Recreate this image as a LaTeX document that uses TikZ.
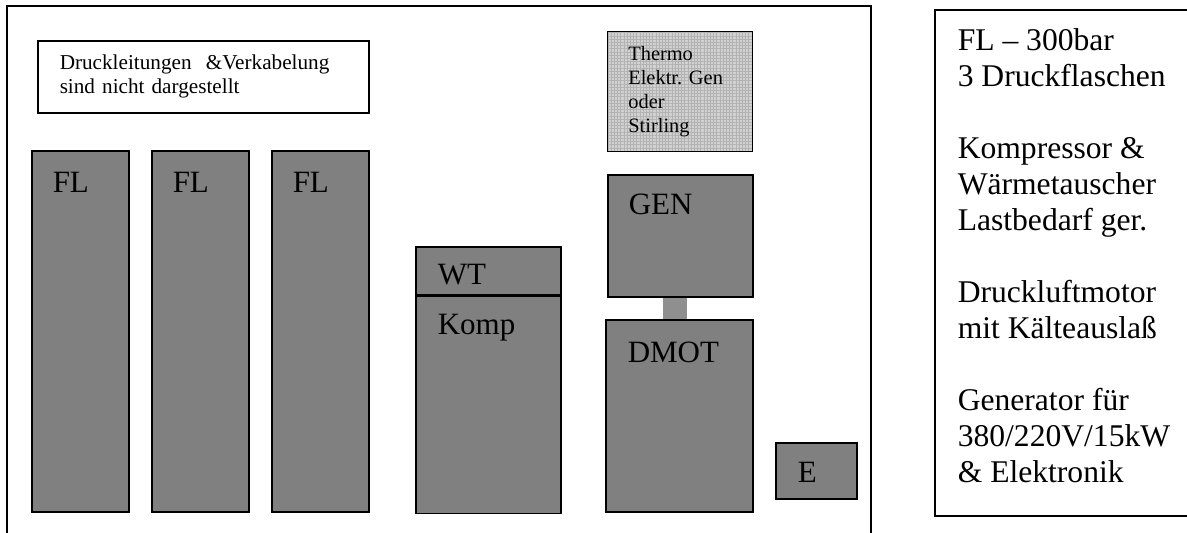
\documentclass[tikz,border=0pt]{standalone}
\usepackage{fontspec}
\setmainfont{Liberation Serif}
\usetikzlibrary{patterns.meta,backgrounds}
\frenchspacing

\begin{document}
\begin{tikzpicture}[x=0.5pt,y=-0.5pt,line width=0.75pt,
  unit/.style={rectangle,fill=black!50,draw=black,anchor=north west,inner sep=0pt},
  unitlabel/.style={anchor=base west,inner sep=0pt,font=\fontsize{15.5}{18}\selectfont},
  notebox/.style={rectangle,fill=white,draw=black,anchor=north west,inner xsep=11pt,inner ysep=0pt,align=left,font=\fontsize{10.6}{12}\selectfont},
  thermobox/.style={rectangle,draw=black,anchor=north west,preaction={fill=black!18},pattern={Hatch[angle=0,distance=1.6pt,line width=0.35pt]},pattern color=black!30,inner xsep=10.5pt,inner ysep=0pt,align=left,font=\fontsize{10.2}{12}\selectfont},
  coupling/.style={fill=black!44}]
\useasboundingbox (0,0) rectangle (1187,532);
% frame of the unit and legend frame (both run past the page edge)
\draw (7,540) -- (7,6) -- (871,6) -- (871,540);
\draw (1192,10) -- (935,10) -- (935,516) -- (1192,516);
\node[notebox,text width=143.5pt,minimum height=36pt] (note) at (37,40) {Druckleitungen \ \&Verkabelung\\sind nicht dargestellt};
% pressure bottles
\node[unit,minimum width=48.5pt,minimum height=180.5pt] (fl1) at (31,150) {};
\node[unit,minimum width=48.5pt,minimum height=180.5pt] (fl2) at (151,150) {};
\node[unit,minimum width=48.5pt,minimum height=180.5pt] (fl3) at (271,150) {};
\node[unitlabel] (fl1txt) at ([shift={(21,42)}]fl1.north west) {FL};
\node[unitlabel] (fl2txt) at ([shift={(21,42)}]fl2.north west) {FL};
\node[unitlabel] (fl3txt) at ([shift={(21,42)}]fl3.north west) {FL};
% heat exchanger and compressor
\node[unit,minimum width=72.5pt,minimum height=24pt] (wt) at (415,246) {};
\node[unit,minimum width=72.5pt,minimum height=108.5pt] (komp) at (wt.south west) {};
\node[unitlabel] (wttxt) at ([shift={(22,38)}]wt.north west) {WT};
\node[unitlabel] (komptxt) at ([shift={(22,39)}]komp.north west) {Komp};
% generator column
\node[thermobox,text width=51.5pt,minimum height=60pt] (thermo) at (607,31) {Thermo\\Elektr. Gen\\oder\\Stirling};
\node[unit,minimum width=72.5pt,minimum height=61pt] (gen) at (607,174) {};
\node[unit,minimum width=73.5pt,minimum height=96pt] (dmot) at (605,319) {};
\node[unitlabel] (gentxt) at ([shift={(21,40)}]gen.north west) {GEN};
\node[unitlabel] (dmottxt) at ([shift={(22,43)}]dmot.north west) {DMOT};
\begin{scope}[on background layer]
\fill[coupling] ([xshift=-8.75pt]gen.south) rectangle ([xshift=3.75pt]dmot.north);
\end{scope}
% electronics
\node[unit,minimum width=40.5pt,minimum height=28pt] (elek) at (775,442) {};
\node[unitlabel] (elektxt) at ([shift={(22,40)}]elek.north west) {E};
% legend
\node[anchor=north west,inner sep=0pt,align=left,font=\fontsize{15.8}{18}\selectfont] (legend) at (957,28) {FL – 300bar\\3 Druckflaschen\\[18pt]Kompressor \&\\Wärmetauscher\\Lastbedarf ger.\\[18pt]Druckluftmotor\\mit Kälteauslaß\\[18pt]Generator für\\380/220V/15kW\\\& Elektronik};
\end{tikzpicture}
\end{document}
